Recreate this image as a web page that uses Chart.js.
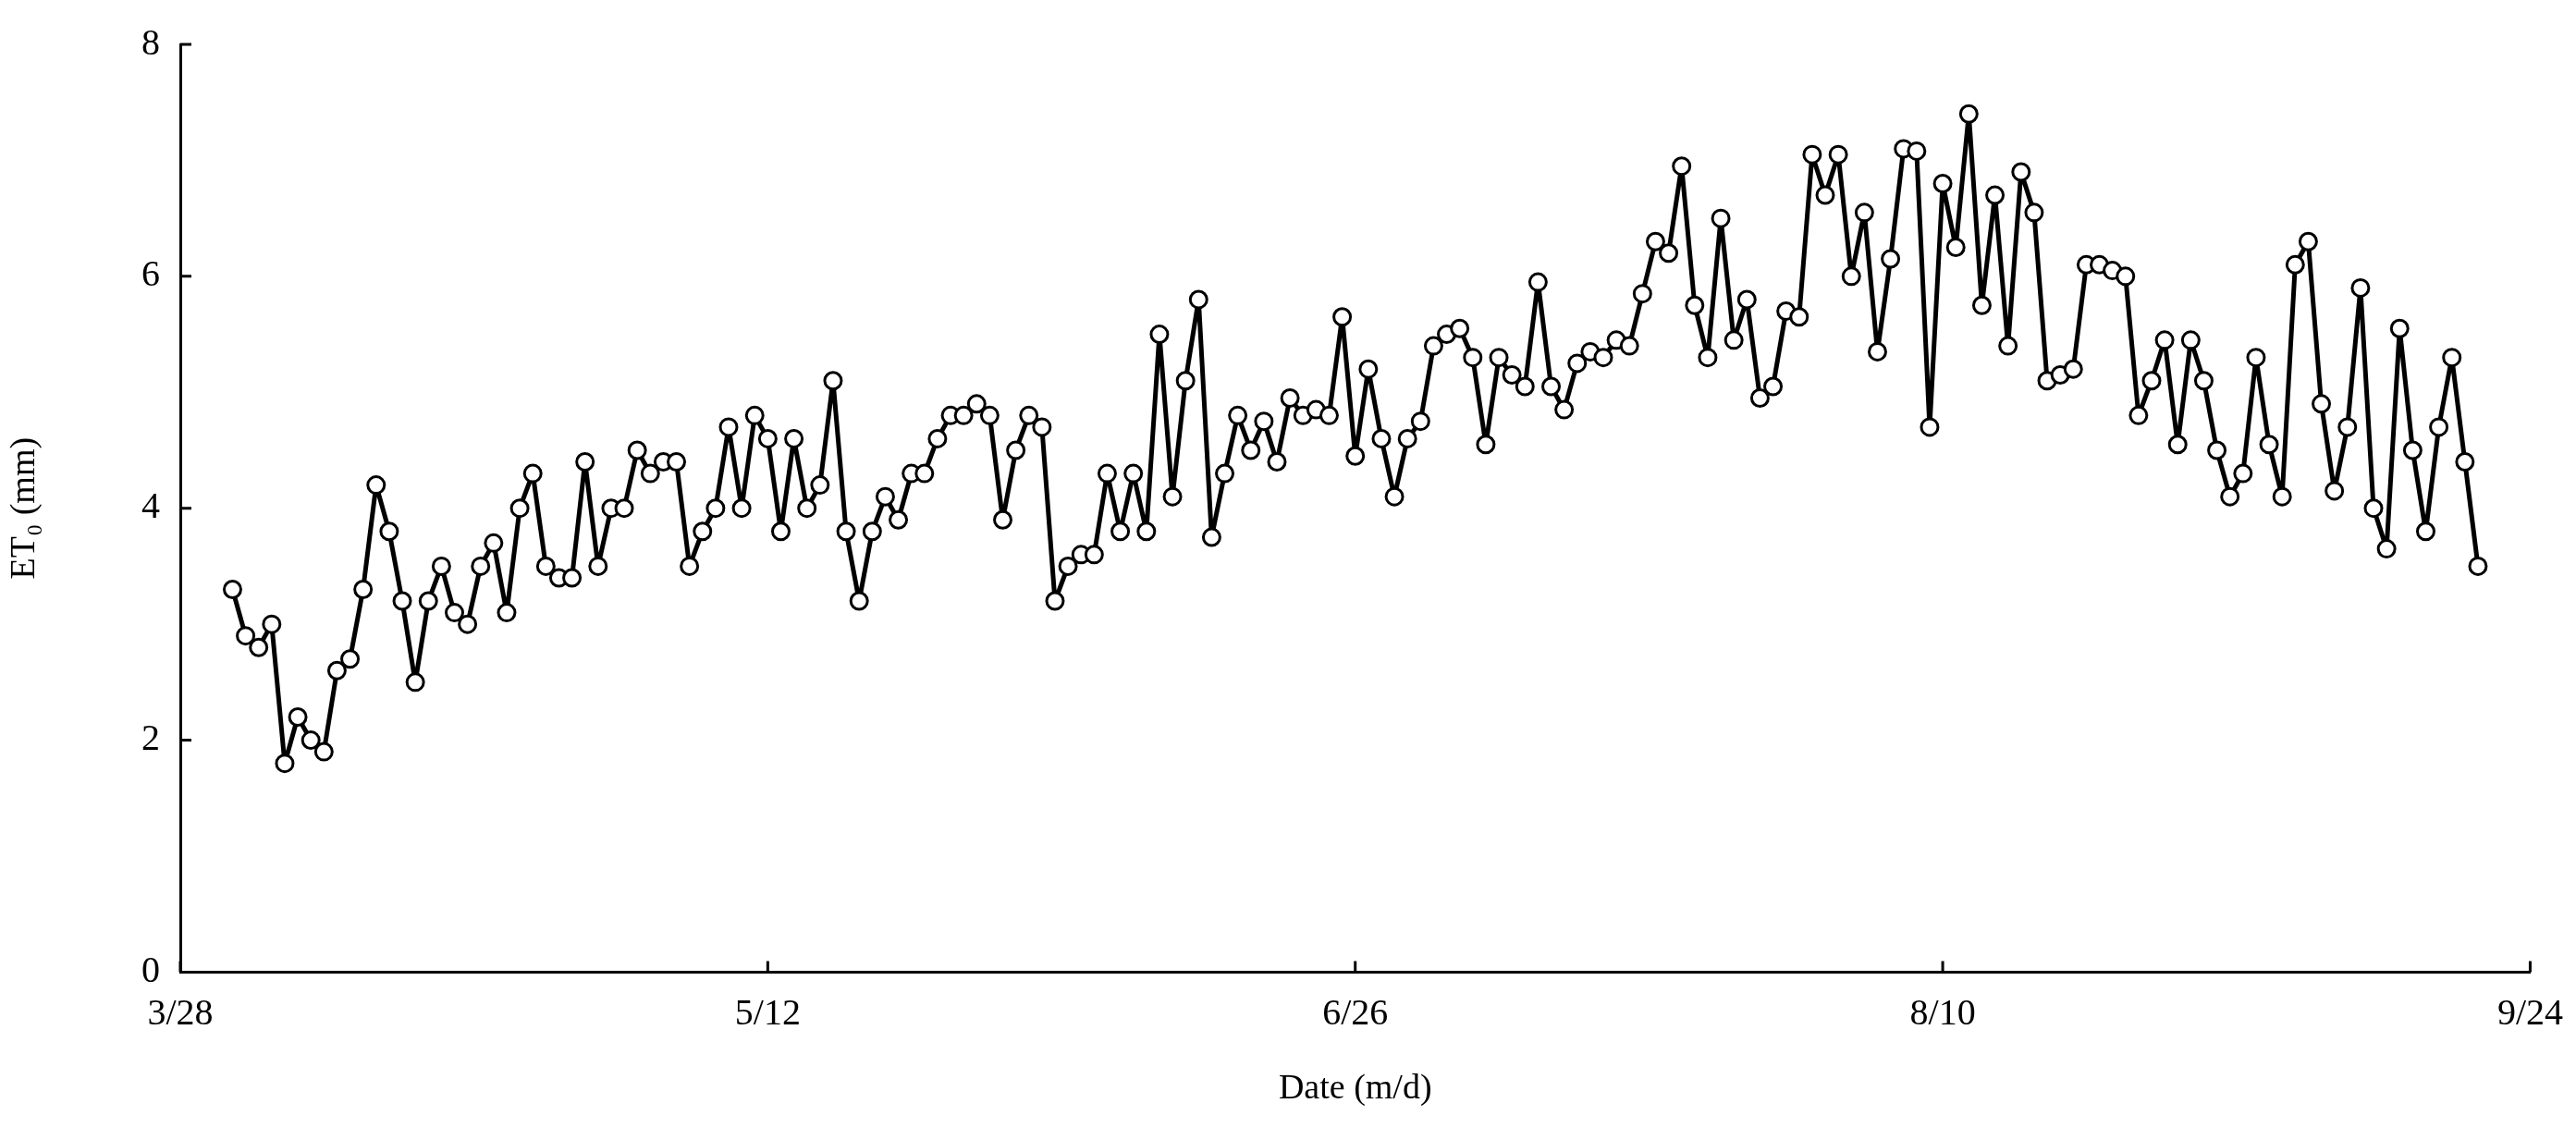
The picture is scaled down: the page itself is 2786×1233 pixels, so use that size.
<!DOCTYPE html>
<html>
<head>
<meta charset="utf-8">
<script src="https://cdn.jsdelivr.net/npm/chart.js@4"></script>
<style>
  html, body { margin: 0; padding: 0; background: #fff; }
  #wrap { width: 2786px; height: 1233px; }
</style>
</head>
<body>
<div id="wrap"><canvas id="chart"></canvas></div>
<script>
// day 0 = 3/28, first observation on day 4 (4/1)
const startDay = 4;
const tickDays = [0, 45, 90, 135, 180];
const tickLabels = ['3/28', '5/12', '6/26', '8/10', '9/24'];
const et0 = [
  3.3, 2.9, 2.8, 3.0, 1.8, 2.2, 2.0, 1.9, 2.6, 2.7,
  3.3, 4.2, 3.8, 3.2, 2.5, 3.2, 3.5, 3.1, 3.0, 3.5,
  3.7, 3.1, 4.0, 4.3, 3.5, 3.4, 3.4, 4.4, 3.5, 4.0,
  4.0, 4.5, 4.3, 4.4, 4.4, 3.5, 3.8, 4.0, 4.7, 4.0,
  4.8, 4.6, 3.8, 4.6, 4.0, 4.2, 5.1, 3.8, 3.2, 3.8,
  4.1, 3.9, 4.3, 4.3, 4.6, 4.8, 4.8, 4.9, 4.8, 3.9,
  4.5, 4.8, 4.7, 3.2, 3.5, 3.6, 3.6, 4.3, 3.8, 4.3,
  3.8, 5.5, 4.1, 5.1, 5.8, 3.75, 4.3, 4.8, 4.5, 4.75,
  4.4, 4.95, 4.8, 4.85, 4.8, 5.65, 4.45, 5.2, 4.6, 4.1,
  4.6, 4.75, 5.4, 5.5, 5.55, 5.3, 4.55, 5.3, 5.15, 5.05,
  5.95, 5.05, 4.85, 5.25, 5.35, 5.3, 5.45, 5.4, 5.85, 6.3,
  6.2, 6.95, 5.75, 5.3, 6.5, 5.45, 5.8, 4.95, 5.05, 5.7,
  5.65, 7.05, 6.7, 7.05, 6.0, 6.55, 5.35, 6.15, 7.1, 7.08,
  4.7, 6.8, 6.25, 7.4, 5.75, 6.7, 5.4, 6.9, 6.55, 5.1,
  5.15, 5.2, 6.1, 6.1, 6.05, 6.0, 4.8, 5.1, 5.45, 4.55,
  5.45, 5.1, 4.5, 4.1, 4.3, 5.3, 4.55, 4.1, 6.1, 6.3,
  4.9, 4.15, 4.7, 5.9, 4.0, 3.65, 5.55, 4.5, 3.8, 4.7,
  5.3, 4.4, 3.5
];

const points = et0.map((v, i) => ({ x: startDay + i, y: v }));
const serif = '"Liberation Serif", "DejaVu Serif", serif';

// short tick marks pointing into the plot area
const innerTicks = {
  id: 'innerTicks',
  afterDraw(chart) {
    const { ctx, scales: { x, y }, chartArea } = chart;
    ctx.save();
    ctx.strokeStyle = '#000';
    ctx.lineWidth = 3;
    ctx.beginPath();
    tickDays.forEach(d => {
      const px = x.getPixelForValue(d);
      ctx.moveTo(px, chartArea.bottom);
      ctx.lineTo(px, chartArea.bottom - 12);
    });
    [0, 2, 4, 6, 8].forEach(v => {
      const py = y.getPixelForValue(v);
      ctx.moveTo(chartArea.left, py);
      ctx.lineTo(chartArea.left + 12, py);
    });
    ctx.stroke();
    ctx.restore();
  }
};

new Chart(document.getElementById('chart'), {
  type: 'line',
  data: {
    datasets: [{
      data: points,
      borderColor: '#000',
      borderWidth: 5,
      borderJoinStyle: 'round',
      pointRadius: 9,
      pointBorderWidth: 3,
      pointBackgroundColor: '#fff',
      pointBorderColor: '#000',
      tension: 0
    }]
  },
  options: {
    responsive: true,
    maintainAspectRatio: false,
    animation: false,
    layout: { padding: { top: 48, right: 10, left: 0, bottom: 28 } },
    plugins: { legend: { display: false }, tooltip: { enabled: false } },
    scales: {
      x: {
        type: 'linear',
        min: 0,
        max: 180,
        afterBuildTicks: s => { s.ticks = tickDays.map(v => ({ value: v })); },
        ticks: {
          color: '#000',
          font: { family: serif, size: 40 },
          padding: 14,
          maxRotation: 0,
          callback: v => tickLabels[tickDays.indexOf(v)]
        },
        grid: { display: false },
        border: { color: '#000', width: 3 },
        title: {
          display: true,
          text: 'Date (m/d)',
          color: '#000',
          font: { family: serif, size: 38 },
          padding: { top: 20 }
        }
      },
      y: {
        min: 0,
        max: 8,
        ticks: {
          stepSize: 2,
          color: '#000',
          font: { family: serif, size: 40 },
          padding: 14
        },
        grid: { display: false },
        border: { color: '#000', width: 3 },
        title: {
          display: true,
          text: 'ET₀ (mm)',
          color: '#000',
          font: { family: serif, size: 38 },
          padding: { bottom: 10 }
        },
        afterFit: s => { s.width = 195; }
      }
    }
  },
  plugins: [innerTicks]
});
</script>
</body>
</html>
